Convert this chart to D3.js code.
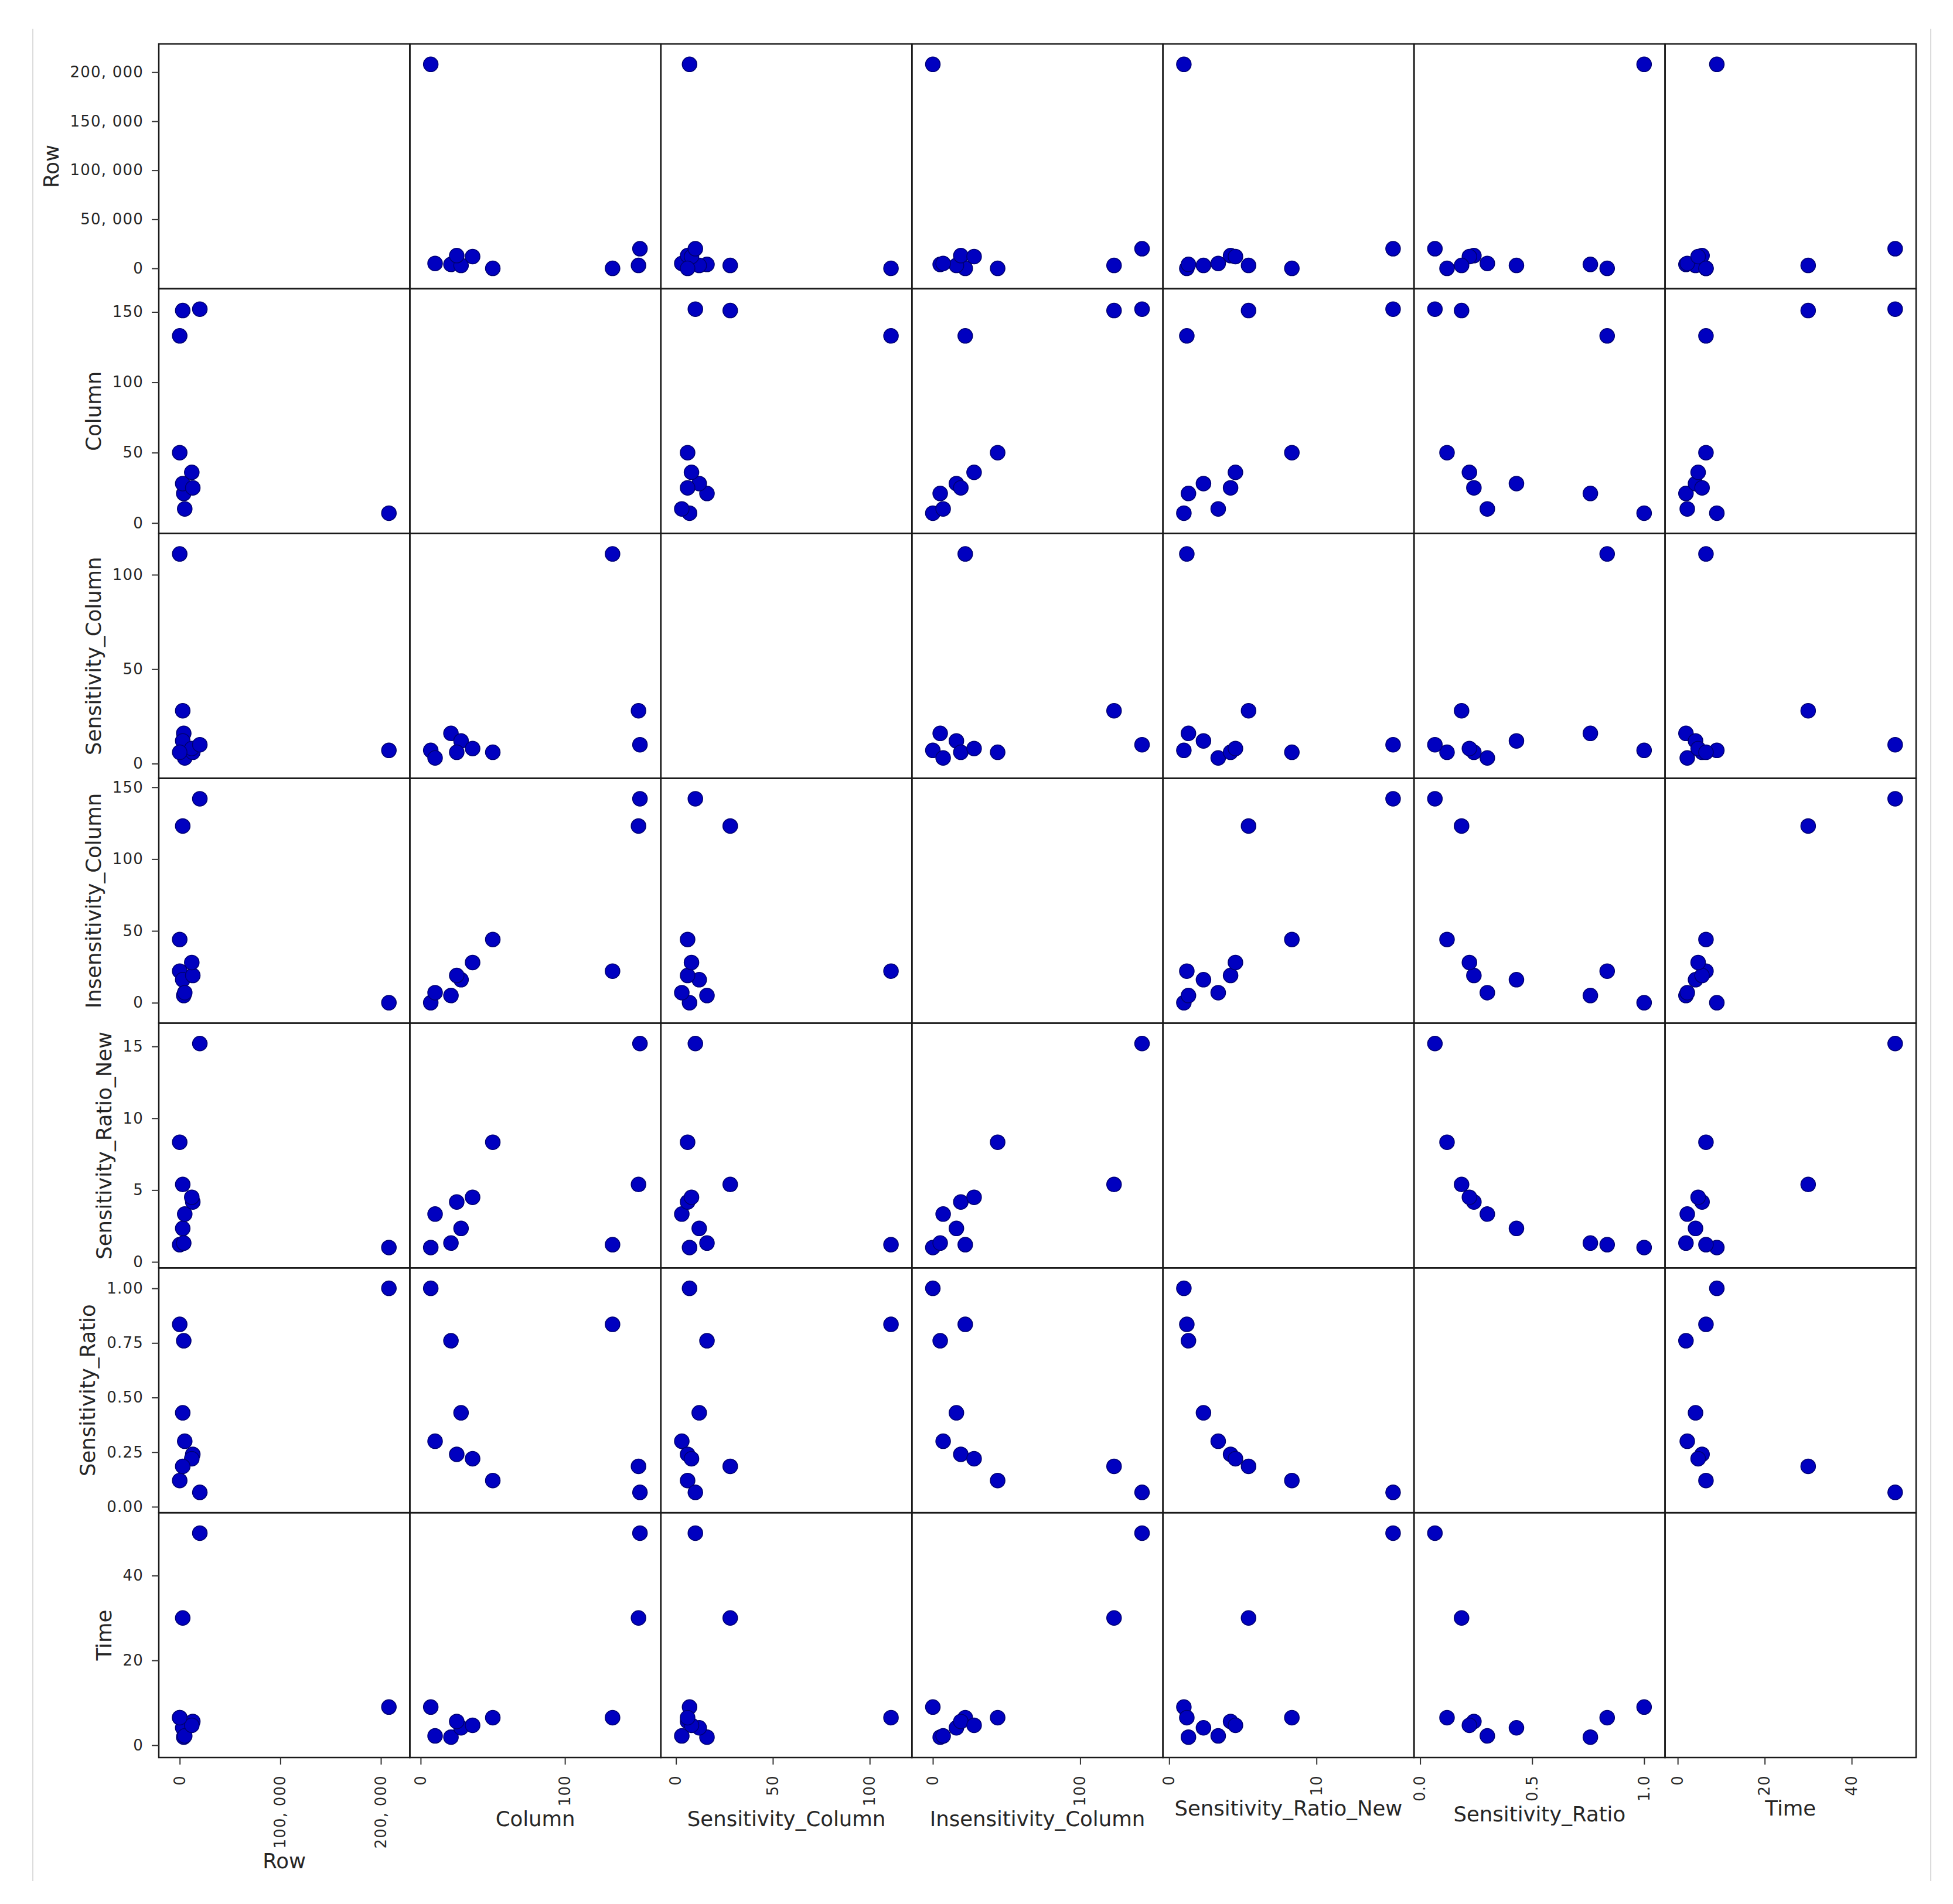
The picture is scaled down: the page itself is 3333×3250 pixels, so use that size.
<!DOCTYPE html>
<html>
<head>
<meta charset="utf-8">
<script src="https://cdn.jsdelivr.net/npm/d3@7"></script>
<style>
  html, body { margin: 0; padding: 0; background: #ffffff; }
  svg { display: block; }
  text { font-family: "DejaVu Sans", sans-serif; fill: #262626; }
</style>
</head>
<body>
<svg id="chart" width="3333" height="3250"></svg>
<script>
// ---------- data ----------
const variables = ["Row", "Column", "Sensitivity_Column", "Insensitivity_Column",
                   "Sensitivity_Ratio_New", "Sensitivity_Ratio", "Time"];

const rowValues         = [208000, 0, 4000, 3000, 5000, 13000, 12000, 3000, 0, 20000];
const columnValues      = [7, 133, 21, 28, 10, 25, 36, 151, 50, 152];
const sensitivityColumn = [7, 111, 16, 12, 3, 6, 8, 28, 6, 10];
const insensitivityCol  = [0, 22, 5, 16, 7, 19, 28, 123, 44, 142];
const sensRatioNew      = [1.0, 1.2, 1.31, 2.33, 3.33, 4.17, 4.5, 5.39, 8.33, 15.2];
const sensRatio         = [1.0, 0.835, 0.76, 0.43, 0.30, 0.24, 0.22, 0.185, 0.12, 0.066];
const timeValues        = [9, 6.5, 1.9, 4.1, 2.2, 5.6, 4.7, 30, 6.5, 50];

const seriesValues = [rowValues, columnValues, sensitivityColumn, insensitivityCol,
                      sensRatioNew, sensRatio, timeValues];

// tick values (left axis of first column, bottom axis of last row)
const yTickRow    = [0, 50000, 100000, 150000, 200000];
const yTickColumn = [0, 50, 100, 150];
const yTickSens   = [0, 50, 100];
const yTickInsens = [0, 50, 100, 150];
const yTickSRN    = [0, 5, 10, 15];
const yTickSR     = [0, 0.25, 0.5, 0.75, 1.0];
const yTickTime   = [0, 20, 40];

const xTickRow    = [0, 100000, 200000];
const xTickColumn = [0, 100];
const xTickSens   = [0, 50, 100];
const xTickInsens = [0, 100];
const xTickSRN    = [0, 10];
const xTickSR     = [0, 0.5, 1.0];
const xTickTime   = [0, 20, 40];

const yTicks = [yTickRow, yTickColumn, yTickSens, yTickInsens, yTickSRN, yTickSR, yTickTime];
const xTicks = [xTickRow, xTickColumn, xTickSens, xTickInsens, xTickSRN, xTickSR, xTickTime];

const thousands = v => d3.format(",")(v).replace(/,/g, ", ");
const yFormats = [thousands, d3.format("d"), d3.format("d"), d3.format("d"), d3.format("d"), d3.format(".2f"), d3.format("d")];
const xFormats = [thousands, d3.format("d"), d3.format("d"), d3.format("d"), d3.format("d"), d3.format(".1f"), d3.format("d")];

// ---------- layout ----------
const gridLeft = 271, gridTop = 75, gridRight = 3270, gridBottom = 3000;
const n = variables.length;
const cellW = (gridRight - gridLeft) / n;
const cellH = (gridBottom - gridTop) / n;
const tickLen = 12;
const tickFont = 26;
const labelFont = 35.5;
const pointColor = "#0000c0";
const pointEdge = "#000070";

const svg = d3.select("#chart");
svg.append("rect").attr("width", 3333).attr("height", 3250).attr("fill", "#ffffff");

// faint screenshot frame lines
svg.append("line").attr("x1", 56).attr("x2", 56).attr("y1", 49).attr("y2", 3211)
   .attr("stroke", "#dcdcdc").attr("stroke-width", 2);
svg.append("line").attr("x1", 3295).attr("x2", 3295).attr("y1", 49).attr("y2", 3211)
   .attr("stroke", "#dcdcdc").attr("stroke-width", 2);

// scales with 10% padding on each side (range_padding 0.2)
function domainOf(vals) {
  const mn = d3.min(vals), mx = d3.max(vals);
  const ext = (mx - mn) * 0.1;
  return [mn - ext, mx + ext];
}
const xScales = seriesValues.map((vals, j) =>
  d3.scaleLinear().domain(domainOf(vals)).range([gridLeft + j * cellW, gridLeft + (j + 1) * cellW]));
const yScales = seriesValues.map((vals, i) =>
  d3.scaleLinear().domain(domainOf(vals)).range([gridTop + (i + 1) * cellH, gridTop + i * cellH]));

const nPoints = rowValues.length;
const idx = d3.range(nPoints);

// points
for (let i = 0; i < n; i++) {
  for (let j = 0; j < n; j++) {
    if (i === j) continue;
    svg.append("g").selectAll("circle").data(idx).join("circle")
      .attr("cx", k => xScales[j](seriesValues[j][k]))
      .attr("cy", k => yScales[i](seriesValues[i][k]))
      .attr("r", 12.5)
      .attr("fill", pointColor)
      .attr("stroke", pointEdge)
      .attr("stroke-width", 1.5);
  }
}

// panel borders
for (let i = 0; i < n; i++) {
  for (let j = 0; j < n; j++) {
    svg.append("rect")
      .attr("x", gridLeft + j * cellW).attr("y", gridTop + i * cellH)
      .attr("width", cellW).attr("height", cellH)
      .attr("fill", "none").attr("stroke", "#1a1a1a").attr("stroke-width", 2.5);
  }
}

// left axes
for (let i = 0; i < n; i++) {
  const g = svg.append("g").attr("transform", `translate(${gridLeft},0)`)
    .call(d3.axisLeft(yScales[i]).tickValues(yTicks[i]).tickFormat(yFormats[i])
          .tickSize(tickLen).tickPadding(14));
  g.select(".domain").remove();
  g.selectAll(".tick line").attr("stroke", "#333").attr("stroke-width", 2);
  g.selectAll(".tick text").attr("fill", "#262626")
    .style("font-size", tickFont + "px").style("font-family", "DejaVu Sans")
    .style("letter-spacing", "1.2px");
  let minX = Infinity;
  g.selectAll(".tick text").each(function() {
    const b = this.getBoundingClientRect();
    minX = Math.min(minX, b.left);
  });
  const cy = gridTop + (i + 0.5) * cellH;
  svg.append("text")
    .attr("transform", `translate(${minX - 20},${cy}) rotate(-90)`)
    .attr("text-anchor", "middle")
    .style("font-size", labelFont + "px")
    .text(variables[i]);
}

// bottom axes
for (let j = 0; j < n; j++) {
  const g = svg.append("g").attr("transform", `translate(0,${gridBottom})`)
    .call(d3.axisBottom(xScales[j]).tickValues(xTicks[j]).tickFormat(xFormats[j])
          .tickSize(tickLen).tickPadding(14));
  g.select(".domain").remove();
  g.selectAll(".tick line").attr("stroke", "#333").attr("stroke-width", 2);
  g.selectAll(".tick text")
    .attr("y", 0).attr("x", -30).attr("dy", "0.32em")
    .attr("transform", "rotate(-90)")
    .style("text-anchor", "end")
    .attr("fill", "#262626")
    .style("font-size", tickFont + "px").style("font-family", "DejaVu Sans")
    .style("letter-spacing", "1.2px");
  let maxY = -Infinity;
  g.selectAll(".tick text").each(function() {
    const b = this.getBoundingClientRect();
    maxY = Math.max(maxY, b.bottom);
  });
  const cx = gridLeft + (j + 0.5) * cellW;
  svg.append("text")
    .attr("x", cx).attr("y", maxY + 34)
    .attr("text-anchor", "middle")
    .style("font-size", labelFont + "px")
    .text(variables[j]);
}
</script>
</body>
</html>
